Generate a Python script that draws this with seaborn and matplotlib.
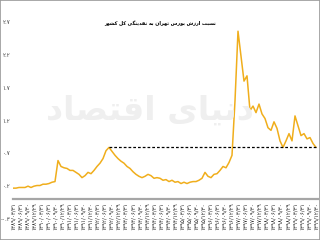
import numpy as np
import pandas as pd
import matplotlib
matplotlib.use("Agg")
import matplotlib.pyplot as plt
import seaborn as sns

# ---- data ----
title_text = "نسبت ارزش بورس تهران به نقدینگی کل کشور"
watermark_text = "دنیای اقتصاد"

ratio = [0.17, 0.17, 0.18, 0.18, 0.18, 0.20, 0.18, 0.20, 0.21, 0.21,
         0.23, 0.23, 0.24, 0.26, 0.27, 0.59, 0.50, 0.48, 0.47, 0.44,
         0.44, 0.41, 0.38, 0.33, 0.36, 0.41, 0.39, 0.44, 0.50, 0.55,
         0.62, 0.74, 0.79, 0.73, 0.67, 0.62, 0.58, 0.55, 0.50, 0.47,
         0.42, 0.38, 0.35, 0.33, 0.35, 0.38, 0.36, 0.32, 0.33, 0.32,
         0.29, 0.30, 0.27, 0.29, 0.26, 0.27, 0.24, 0.26, 0.24, 0.26,
         0.27, 0.27, 0.29, 0.32, 0.41, 0.35, 0.33, 0.38, 0.39, 0.44,
         0.50, 0.48, 0.56, 0.67, 1.50, 2.56, 2.18, 1.80, 1.88, 1.35,
         1.42, 1.32, 1.45, 1.30, 1.23, 1.09, 1.05, 1.18, 1.08, 0.89,
         0.79, 0.89, 1.00, 0.89, 1.27, 1.12, 0.97, 1.00, 0.92, 0.94,
         0.85, 0.79]

reference_level = 0.79
reference_start = 32  # index where the dashed reference starts (previous peak)

ytick_values = [-0.3, 0.2, 0.7, 1.2, 1.7, 2.2, 2.7]
ytick_labels = ["-۰.۳", "۰.۲", "۰.۷", "۱.۲", "۱.۷", "۲.۲", "۲.۷"]

xtick_labels = [
    "۱۳۸۹/۰۳/۳۱", "۱۳۸۹/۰۶/۳۱", "۱۳۸۹/۰۹/۳۰", "۱۳۸۹/۱۲/۲۹",
    "۱۳۹۰/۰۳/۳۱", "۱۳۹۰/۰۶/۳۱", "۱۳۹۰/۰۹/۳۰", "۱۳۹۰/۱۲/۲۹",
    "۱۳۹۱/۰۳/۳۱", "۱۳۹۱/۰۶/۳۱", "۱۳۹۱/۰۹/۳۰", "۱۳۹۱/۱۲/۳۰",
    "۱۳۹۲/۰۳/۳۱", "۱۳۹۲/۰۶/۳۱", "۱۳۹۲/۰۹/۳۰", "۱۳۹۲/۱۲/۲۹",
    "۱۳۹۳/۰۳/۳۱", "۱۳۹۳/۰۶/۳۱", "۱۳۹۳/۰۹/۳۰", "۱۳۹۳/۱۲/۲۹",
    "۱۳۹۴/۰۳/۳۱", "۱۳۹۴/۰۶/۳۱", "۱۳۹۴/۰۹/۳۰", "۱۳۹۴/۱۲/۲۹",
    "۱۳۹۵/۰۳/۳۱", "۱۳۹۵/۰۶/۳۱", "۱۳۹۵/۰۹/۳۰", "۱۳۹۵/۱۲/۳۰",
    "۱۳۹۶/۰۳/۳۱", "۱۳۹۶/۰۶/۳۱", "۱۳۹۶/۰۹/۳۰", "۱۳۹۶/۱۲/۲۹",
    "۱۳۹۷/۰۳/۳۱", "۱۳۹۷/۰۶/۳۱", "۱۳۹۷/۰۹/۳۰", "۱۳۹۷/۱۲/۲۹",
    "۱۳۹۸/۰۳/۳۱", "۱۳۹۸/۰۶/۳۱", "۱۳۹۸/۰۹/۳۰", "۱۳۹۸/۱۲/۲۹",
    "۱۳۹۹/۰۳/۳۱", "۱۳۹۹/۰۶/۳۱", "۱۳۹۹/۰۹/۳۰", "۱۳۹۹/۱۲/۳۰",
]

# ---- minimal Persian shaping (matplotlib has no bidi/shaping) ----
FORMS = {
    "ا": ("\uFE8D", "\uFE8E"), "د": ("\uFEA9", "\uFEAA"), "ذ": ("\uFEAB", "\uFEAC"),
    "ر": ("\uFEAD", "\uFEAE"), "ز": ("\uFEAF", "\uFEB0"), "و": ("\uFEED", "\uFEEE"),
    "ژ": ("\uFB8A", "\uFB8B"),
    "ب": ("\uFE8F", "\uFE90", "\uFE91", "\uFE92"), "ت": ("\uFE95", "\uFE96", "\uFE97", "\uFE98"),
    "س": ("\uFEB1", "\uFEB2", "\uFEB3", "\uFEB4"), "ش": ("\uFEB5", "\uFEB6", "\uFEB7", "\uFEB8"),
    "ص": ("\uFEB9", "\uFEBA", "\uFEBB", "\uFEBC"), "ف": ("\uFED1", "\uFED2", "\uFED3", "\uFED4"),
    "ق": ("\uFED5", "\uFED6", "\uFED7", "\uFED8"), "ک": ("\uFB8E", "\uFB8F", "\uFB90", "\uFB91"),
    "گ": ("\uFB92", "\uFB93", "\uFB94", "\uFB95"), "ل": ("\uFEDD", "\uFEDE", "\uFEDF", "\uFEE0"),
    "م": ("\uFEE1", "\uFEE2", "\uFEE3", "\uFEE4"), "ن": ("\uFEE5", "\uFEE6", "\uFEE7", "\uFEE8"),
    "ه": ("\uFEE9", "\uFEEA", "\uFEEB", "\uFEEC"), "ی": ("\uFBFC", "\uFBFD", "\uFBFE", "\uFBFF"),
    "پ": ("\uFB56", "\uFB57", "\uFB58", "\uFB59"),
}


def shape(text):
    out = []
    n = len(text)
    for i, ch in enumerate(text):
        f = FORMS.get(ch)
        if f is None:
            out.append(ch)
            continue
        prev = text[i - 1] if i > 0 else None
        nxt = text[i + 1] if i + 1 < n else None
        join_prev = prev in FORMS and len(FORMS[prev]) == 4
        join_next = len(f) == 4 and nxt in FORMS
        if join_prev and join_next:
            out.append(f[3])
        elif join_prev:
            out.append(f[1])
        elif join_next:
            out.append(f[2])
        else:
            out.append(f[0])
    return "".join(reversed(out))


# ---- plot ----
sns.set_theme(style="white")
plt.rcParams["font.family"] = ["DejaVu Sans"]

df = pd.DataFrame({"idx": np.arange(len(ratio)), "ratio": ratio})

fig = plt.figure(figsize=(3.2, 2.4), dpi=100)
ax = fig.add_axes([13 / 320, 1 - 219 / 240, 305 / 320, 197 / 240])

# watermark
fig.text(150 / 320, 1 - 110 / 240, shape(watermark_text), fontsize=24, color="#efefef",
         ha="center", va="center", fontweight="bold", zorder=0)

sns.lineplot(data=df, x="idx", y="ratio", ax=ax, color="#f0ae1c", linewidth=1.1, zorder=3)
ax.plot([reference_start, len(ratio) - 1], [reference_level, reference_level],
        color="black", linestyle=(0, (2.2, 1.6)), linewidth=0.9, zorder=4)

ax.set_xlim(0, (len(ratio) - 1) * 305 / 303)
ax.set_ylim(-0.3, 2.7)
ax.set_facecolor("none")

for s in ["top", "right", "left"]:
    ax.spines[s].set_visible(False)
ax.spines["bottom"].set_position(("data", 0))
ax.spines["bottom"].set_color("#a6a6a6")
ax.spines["bottom"].set_linewidth(1.6)

ax.set_yticks(ytick_values)
ax.set_yticklabels(ytick_labels, fontsize=4, color="#404040")
xpos = np.linspace(0, len(ratio) - 1, len(xtick_labels))
ax.set_xticks(xpos)
ax.set_xticklabels(xtick_labels, rotation=90, fontsize=4, color="#222222")
ax.tick_params(axis="both", length=0, pad=2)
ax.set_xlabel("")
ax.set_ylabel("")
ax.grid(False)

fig.text(0.5, 1 - 23 / 240, shape(title_text), fontsize=3.9, fontweight="bold",
         fontstretch="condensed", ha="center", va="center", color="black")

# outer frame
fig.patches.append(plt.Rectangle((0, 0), 1, 1, transform=fig.transFigure, fill=False,
                                 edgecolor="#9a9a9a", linewidth=1.2))

fig.savefig("out.png", dpi=100)
